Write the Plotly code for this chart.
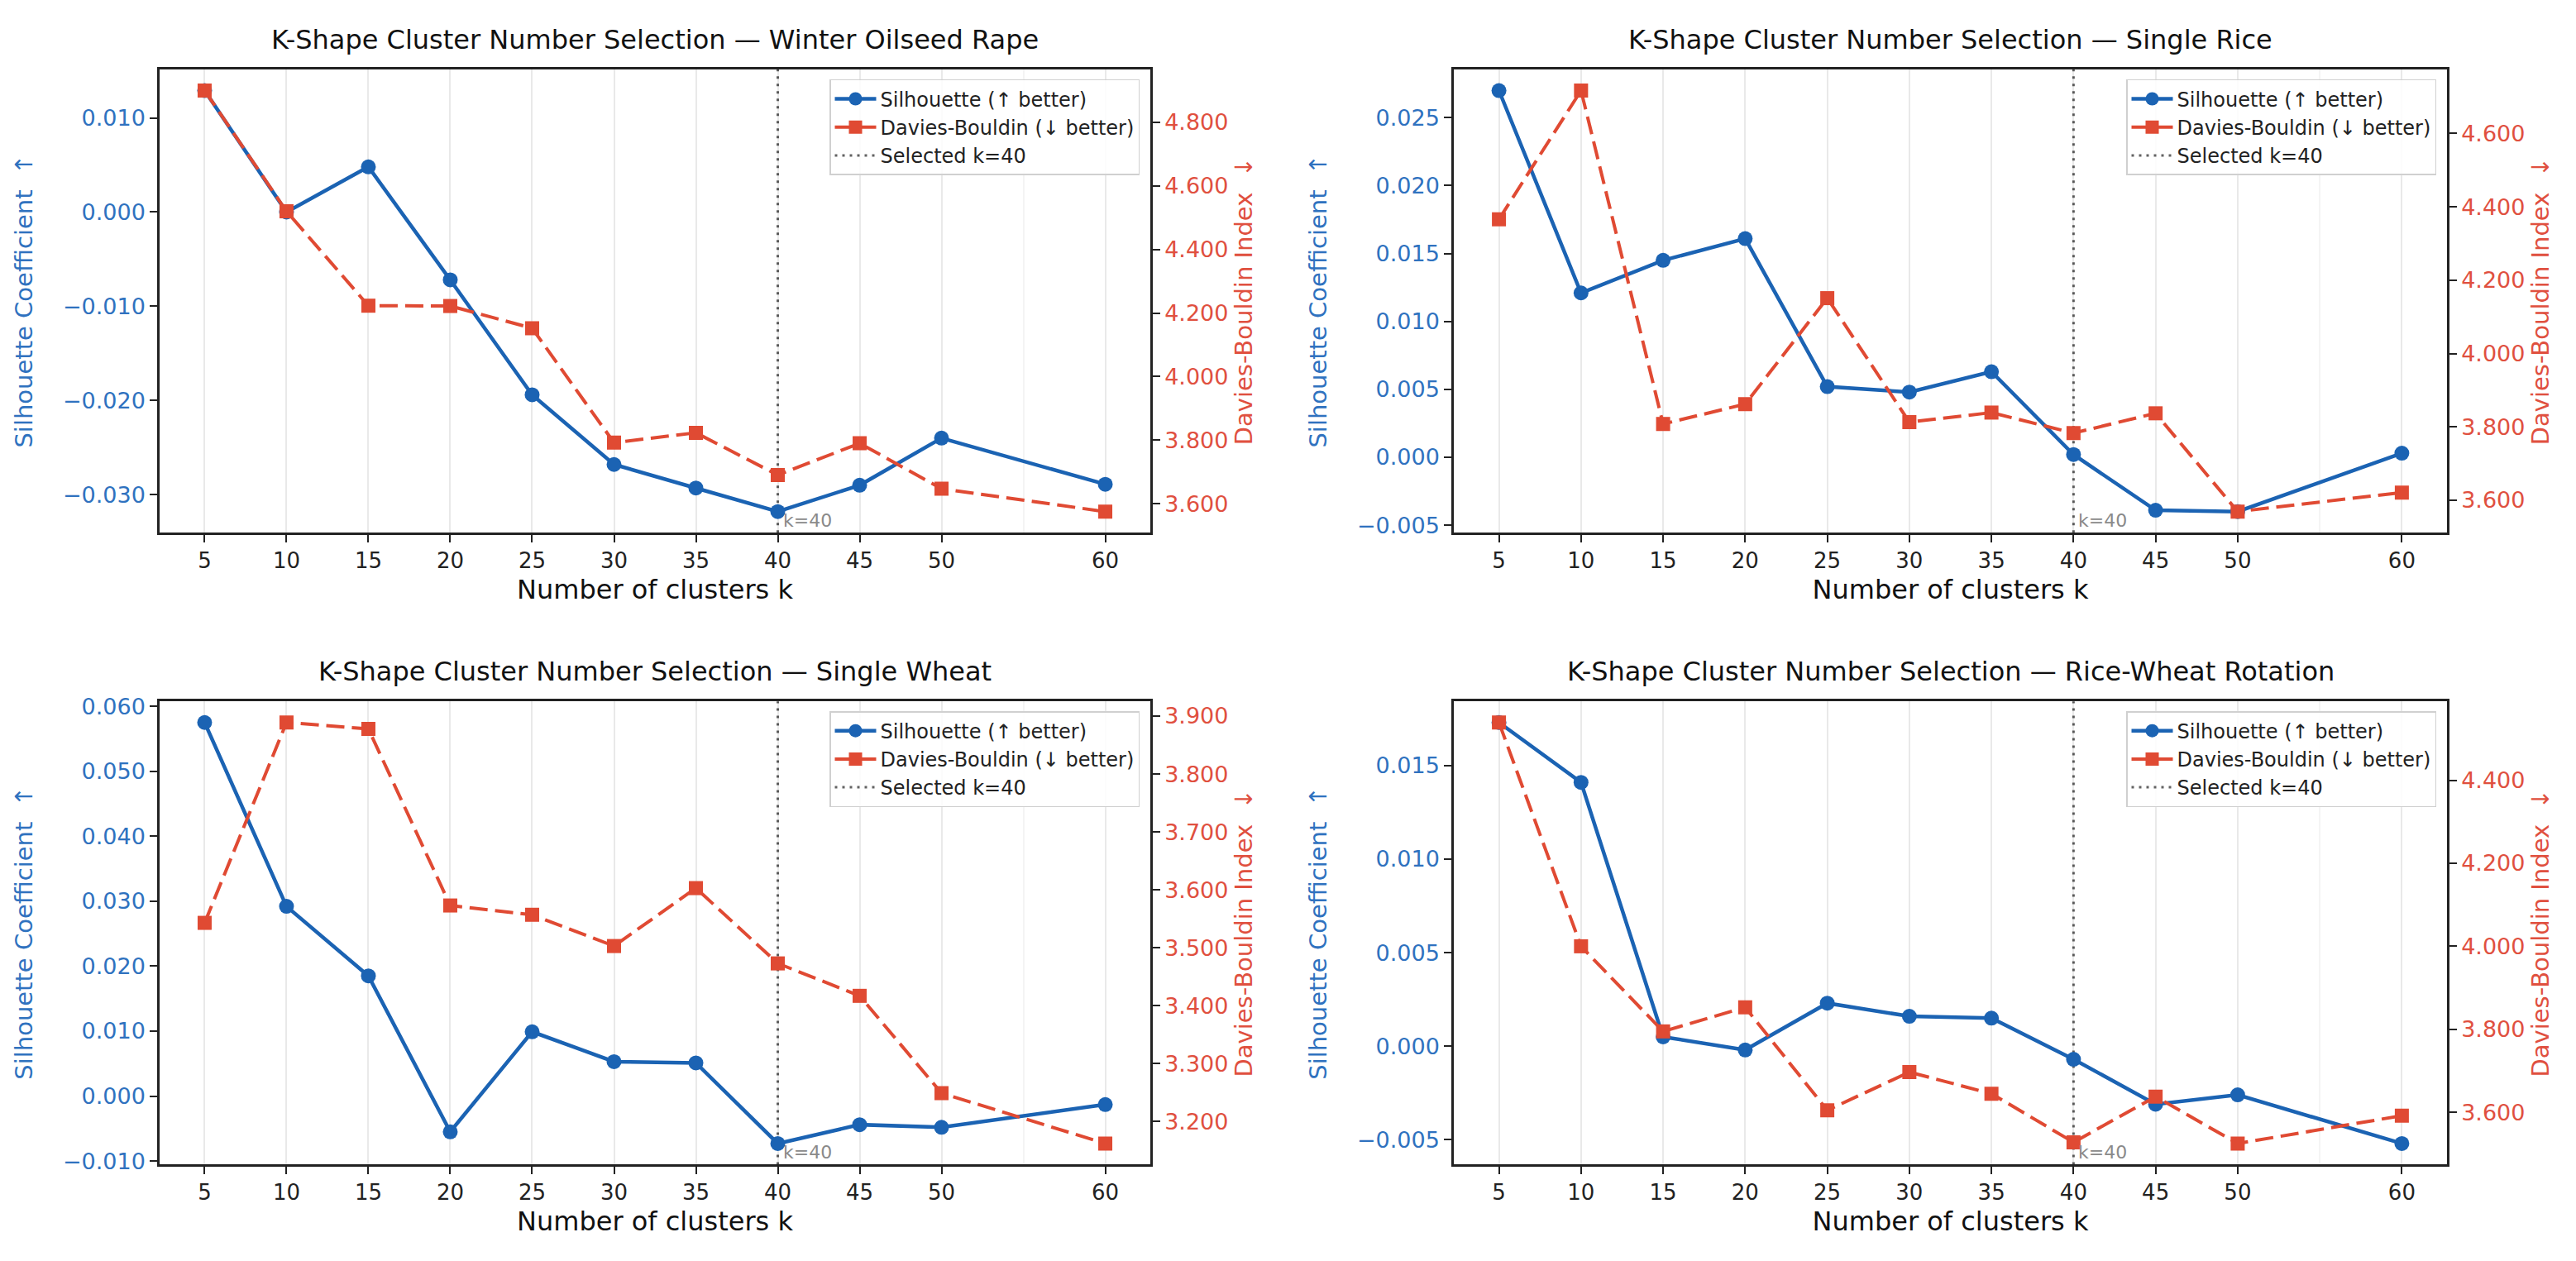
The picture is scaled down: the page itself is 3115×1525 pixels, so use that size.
import plotly.graph_objects as go

# ---------------- data ----------------
K_VALUES = [5, 10, 15, 20, 25, 30, 35, 40, 45, 50, 60]
SELECTED_K = 40

PANEL_TITLES = [
    "K-Shape Cluster Number Selection — Winter Oilseed Rape",
    "K-Shape Cluster Number Selection — Single Rice",
    "K-Shape Cluster Number Selection — Single Wheat",
    "K-Shape Cluster Number Selection — Rice-Wheat Rotation",
]

winter_sil = [0.0129, 0.0000, 0.0048, -0.0072, -0.0194, -0.0268, -0.0293, -0.0318, -0.0290, -0.0240, -0.0289]
winter_db = [4.900, 4.520, 4.223, 4.222, 4.152, 3.792, 3.823, 3.690, 3.790, 3.647, 3.575]

rice_sil = [0.0270, 0.0121, 0.0145, 0.0161, 0.0052, 0.0048, 0.0063, 0.0002, -0.0039, -0.0040, 0.0003]
rice_db = [4.366, 4.717, 3.808, 3.862, 4.151, 3.813, 3.839, 3.783, 3.837, 3.569, 3.621]

wheat_sil = [0.0575, 0.0292, 0.0185, -0.0055, 0.0099, 0.0053, 0.0051, -0.0073, -0.0044, -0.0048, -0.0013]
wheat_db = [3.543, 3.889, 3.878, 3.573, 3.557, 3.503, 3.603, 3.473, 3.417, 3.249, 3.162]

rw_sil = [0.0173, 0.0141, 0.0005, -0.0002, 0.0023, 0.0016, 0.0015, -0.0007, -0.0031, -0.0026, -0.0052]
rw_db = [4.539, 4.000, 3.795, 3.853, 3.605, 3.697, 3.645, 3.528, 3.638, 3.525, 3.592]

SIL_SERIES = [winter_sil, rice_sil, wheat_sil, rw_sil]
DB_SERIES = [winter_db, rice_db, wheat_db, rw_db]
SIL_DTICK = [0.01, 0.005, 0.01, 0.005]
DB_DTICK = [0.2, 0.2, 0.1, 0.2]

SIL_NAME = "Silhouette (↑ better)"
DB_NAME = "Davies-Bouldin (↓ better)"
SEL_NAME = f"Selected k={SELECTED_K}"
X_LABEL = "Number of clusters k"
Y1_LABEL = "Silhouette Coefficient  ↑"
Y2_LABEL = "Davies-Bouldin Index  ↓"

# ---------------- style ----------------
PAGE_W, PAGE_H = 3115, 1525
OFF = 8  # default body margin of the html page
W, H = PAGE_W - 2 * OFF, PAGE_H - 2 * OFF
FONT = "DejaVu Sans"
BLUE = "#1b63b3"
BLUE_TXT = "#2f72bf"
RED = "#e04a33"
RED_TXT = "#e0503f"
AXIS = "#222222"
GRID = "rgba(0,0,0,0.045)"
SEL_COLOR = "rgba(70,70,70,0.85)"


def px_x(p):
    return (p - OFF) / W


def px_y(p):
    return 1 - (p - OFF) / H


# panel plot-area edges in page pixels
X_DOMAINS = [[px_x(193), px_x(1391)], [px_x(1758), px_x(2959)]]
Y_DOMAINS = [[px_y(643), px_y(75)], [px_y(1418), px_y(850)]]
TITLE_Y = [px_y(38), px_y(813)]


def padded(vals, frac=0.05):
    lo, hi = min(vals), max(vals)
    p = (hi - lo) * frac
    return [lo - p, hi + p]


xr = padded(K_VALUES)

fig = go.Figure()
layout = dict(
    width=W, height=H, autosize=False,
    margin=dict(l=0, r=0, t=0, b=0),
    paper_bgcolor="white", plot_bgcolor="white",
    font=dict(family=FONT, color="#111111"),
    annotations=[], shapes=[],
)

for i in range(4):
    col, row = i % 2, i // 2
    xa = f"x{i + 1}" if i else "x"
    ya1 = f"y{2 * i + 1}" if i else "y"
    ya2 = f"y{2 * i + 2}"
    leg = f"legend{i + 1}" if i else "legend"

    fig.add_trace(go.Scatter(
        x=K_VALUES, y=SIL_SERIES[i], name=SIL_NAME, mode="lines+markers",
        line=dict(color=BLUE, width=4.5), marker=dict(color=BLUE, size=18, symbol="circle"),
        xaxis=xa, yaxis=ya1, legend=leg, showlegend=True))
    fig.add_trace(go.Scatter(
        x=K_VALUES, y=DB_SERIES[i], name=DB_NAME, mode="lines+markers",
        line=dict(color=RED, width=4, dash="22px,9px"), marker=dict(color=RED, size=17, symbol="square"),
        xaxis=xa, yaxis=ya2, legend=leg, showlegend=True))
    fig.add_trace(go.Scatter(
        x=[None], y=[None], name=SEL_NAME, mode="lines",
        line=dict(color=SEL_COLOR, width=3, dash="3px,6px"),
        xaxis=xa, yaxis=ya1, legend=leg, showlegend=True, hoverinfo="skip"))

    xkey = "xaxis" + (str(i + 1) if i else "")
    y1key = "yaxis" + (str(2 * i + 1) if i else "")
    y2key = "yaxis" + str(2 * i + 2)

    layout[xkey] = dict(
        domain=X_DOMAINS[col], anchor=ya1, range=xr,
        tickmode="array", tickvals=K_VALUES, ticktext=[str(k) for k in K_VALUES],
        ticks="outside", ticklen=9, tickwidth=2, tickcolor=AXIS,
        showline=True, mirror=True, linecolor=AXIS, linewidth=2.5,
        showgrid=True, gridcolor=GRID, gridwidth=1.5, zeroline=False,
        minor=dict(tick0=0, dtick=5, showgrid=True, gridcolor=GRID, gridwidth=1.5, ticks=""),
        tickfont=dict(size=26, color="#222222"),
        title=dict(text=X_LABEL, font=dict(size=32, color="#111111"), standoff=10),
    )
    layout[y1key] = dict(
        domain=Y_DOMAINS[row], anchor=xa, side="left", range=padded(SIL_SERIES[i]),
        tick0=0, dtick=SIL_DTICK[i], tickformat=".3f",
        ticks="outside", ticklen=9, tickwidth=2, tickcolor=AXIS,
        showline=True, linecolor=AXIS, linewidth=2.5,
        showgrid=False, zeroline=False,
        tickfont=dict(size=27, color=BLUE_TXT),
        title=dict(text=Y1_LABEL, font=dict(size=29, color=BLUE_TXT), standoff=28),
    )
    layout[y2key] = dict(
        overlaying=ya1, anchor=xa, side="right", range=padded(DB_SERIES[i]),
        tick0=0, dtick=DB_DTICK[i], tickformat=".3f",
        ticks="outside", ticklen=9, tickwidth=2, tickcolor=AXIS,
        showline=True, linecolor=AXIS, linewidth=2.5,
        showgrid=False, zeroline=False,
        tickfont=dict(size=27, color=RED_TXT),
        title=dict(text=Y2_LABEL, font=dict(size=29, color=RED_TXT), standoff=10),
    )

    # legend (upper right inside the panel)
    lx = X_DOMAINS[col][1] - 13 / W
    ly = Y_DOMAINS[row][1] - 12 / H
    layout[leg] = dict(
        x=lx, y=ly, xanchor="right", yanchor="top", xref="paper", yref="paper",
        bgcolor="rgba(255,255,255,0.85)", bordercolor="#d0d0d0", borderwidth=1.5,
        font=dict(size=24, color="#222222"), itemwidth=50, tracegroupgap=0,
    )

    # selected-k vertical line
    layout["shapes"].append(dict(
        type="line", xref=xa, yref=f"{ya1} domain", x0=SELECTED_K, x1=SELECTED_K, y0=0, y1=1,
        line=dict(color=SEL_COLOR, width=3, dash="3px,6px"), layer="below"))
    layout["annotations"].append(dict(
        x=SELECTED_K, y=0, xref=xa, yref=f"{ya1} domain", text=f"k={SELECTED_K}",
        showarrow=False, xanchor="left", yanchor="bottom", xshift=4, yshift=0,
        font=dict(size=22, color="#8a8a8a")))

    # panel title
    cx = (X_DOMAINS[col][0] + X_DOMAINS[col][1]) / 2
    layout["annotations"].append(dict(
        x=cx, y=TITLE_Y[row], xref="paper", yref="paper", text=PANEL_TITLES[i],
        showarrow=False, xanchor="center", yanchor="middle",
        font=dict(size=32, color="#111111")))

fig.update_layout(**layout)
fig.write_html("out.html")
